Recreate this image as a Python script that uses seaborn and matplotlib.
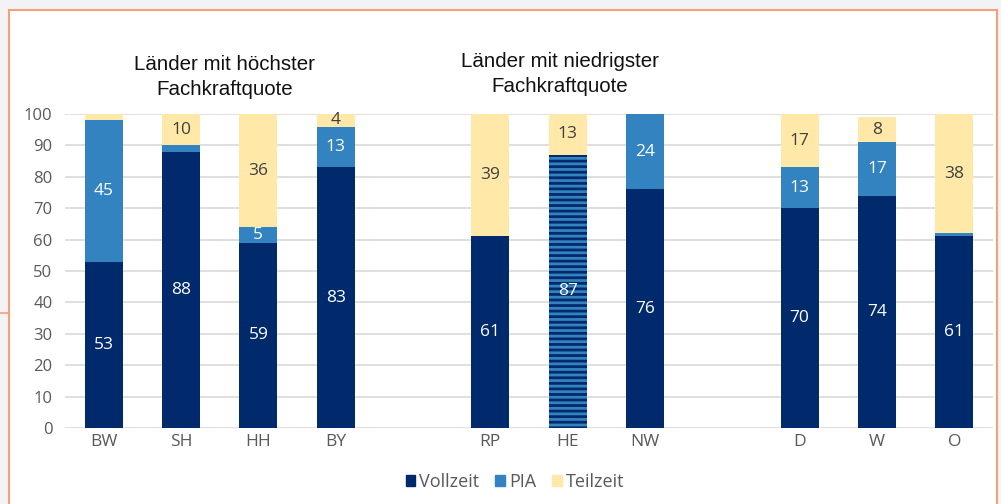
import numpy as np
import pandas as pd
import seaborn as sns
import matplotlib.pyplot as plt
from matplotlib.patches import Rectangle
from matplotlib.lines import Line2D

# data (percent)
laender = ['BW', 'SH', 'HH', 'BY', 'RP', 'HE', 'NW', 'D', 'W', 'O']
vollzeit = [53, 88, 59, 83, 61, 87, 76, 70, 74, 61]
pia = [45, 2, 5, 13, 0, 0, 24, 13, 17, 1]
teilzeit = [2, 10, 36, 4, 39, 13, 0, 17, 8, 38]
order = ['BW', 'SH', 'HH', 'BY', ' ', 'RP', 'HE', 'NW', '  ', 'D', 'W', 'O']

c_voll = '#002A6C'
c_pia = '#3283BF'
c_teil = '#FFE8A8'

df = pd.DataFrame({'Land': laender, 'Vollzeit': vollzeit, 'PIA': pia, 'Teilzeit': teilzeit})
df['cum_pia'] = df['Vollzeit'] + df['PIA']
df['cum_teil'] = df['cum_pia'] + df['Teilzeit']

sns.set_style('white')
plt.rcParams['font.family'] = ['Open Sans', 'DejaVu Sans']
plt.rcParams['hatch.linewidth'] = 2.0

fig = plt.figure(figsize=(10.01, 5.04), dpi=100)
fig.patch.set_facecolor('#F3F3F5')
# white panel with orange frame
fig.patches.append(Rectangle((9 / 1001, -0.1), 988 / 1001, 494 / 504 + 0.1, transform=fig.transFigure,
                             facecolor='white', edgecolor='#F4A07A', linewidth=1.5, zorder=-1))
fig.lines.append(Line2D([0, 9 / 1001], [1 - 313 / 504, 1 - 313 / 504], transform=fig.transFigure,
                        color='#F4A07A', linewidth=1.2))

ax = fig.add_axes([65 / 1001, 1 - 428 / 504, (993 - 65) / 1001, (428 - 114) / 504])
ax.set_facecolor('none')

# stacked bars: draw totals first, then overlay lower parts
sns.barplot(data=df, x='Land', y='cum_teil', order=order, color=c_teil, saturation=1,
            width=0.49, linewidth=0, errorbar=None, ax=ax)
sns.barplot(data=df, x='Land', y='cum_pia', order=order, color=c_pia, saturation=1,
            width=0.49, linewidth=0, errorbar=None, ax=ax)
sns.barplot(data=df, x='Land', y='Vollzeit', order=order, color=c_voll, saturation=1,
            width=0.49, linewidth=0, errorbar=None, ax=ax)

# HE Vollzeit bar is striped
he_pos = order.index('HE')
for p in ax.containers[2]:
    if abs(p.get_x() + p.get_width() / 2 - he_pos) < 0.1:
        p.set_edgecolor(c_pia)
        p.set_hatch('---')
        if hasattr(p, 'set_hatch_linewidth'):
            p.set_hatch_linewidth(2.0)

# value labels
for i, row in df.iterrows():
    x = order.index(row['Land'])
    parts = [(0, row['Vollzeit'], 'white'),
             (row['Vollzeit'], row['PIA'], 'white'),
             (row['cum_pia'], row['Teilzeit'], '#404040')]
    for bottom, val, col in parts:
        if val >= 3:
            ax.text(x, bottom + val / 2, f'{val}', ha='center', va='center',
                    color=col, fontsize=12.5)

ax.set_ylim(0, 100)
ax.set_xlim(-0.5, 11.5)
ax.set_yticks(np.arange(0, 101, 10))
ax.yaxis.grid(True, color='#D9D9D9', linewidth=1.2)
ax.set_axisbelow(True)
ax.tick_params(axis='y', length=0, pad=9, labelsize=12, labelcolor='#595959')
ax.tick_params(axis='x', length=0, pad=4, labelsize=12.5, labelcolor='#595959')
ax.set_xlabel('')
ax.set_ylabel('')
sns.despine(ax=ax, left=True, bottom=True)

fig.text(225 / 1001, 1 - 77 / 504, 'Länder mit höchster\nFachkraftquote', ha='center', va='center',
         fontsize=14.8, family='Liberation Sans', color='#111111', linespacing=1.35)
fig.text(560 / 1001, 1 - 74 / 504, 'Länder mit niedrigster\nFachkraftquote', ha='center', va='center',
         fontsize=14.8, family='Liberation Sans', color='#111111', linespacing=1.35)

handles = [Rectangle((0, 0), 1, 1, color=c) for c in (c_voll, c_pia, c_teil)]
leg = fig.legend(handles, ['Vollzeit', 'PIA', 'Teilzeit'], loc='center', ncol=3,
                 bbox_to_anchor=(515 / 1001, 1 - 482 / 504), frameon=False, fontsize=13,
                 handlelength=0.55, handleheight=0.55, handletextpad=0.2, columnspacing=0.9)
for t in leg.get_texts():
    t.set_color('#595959')

fig.savefig('out.png', dpi=100, facecolor=fig.get_facecolor())
